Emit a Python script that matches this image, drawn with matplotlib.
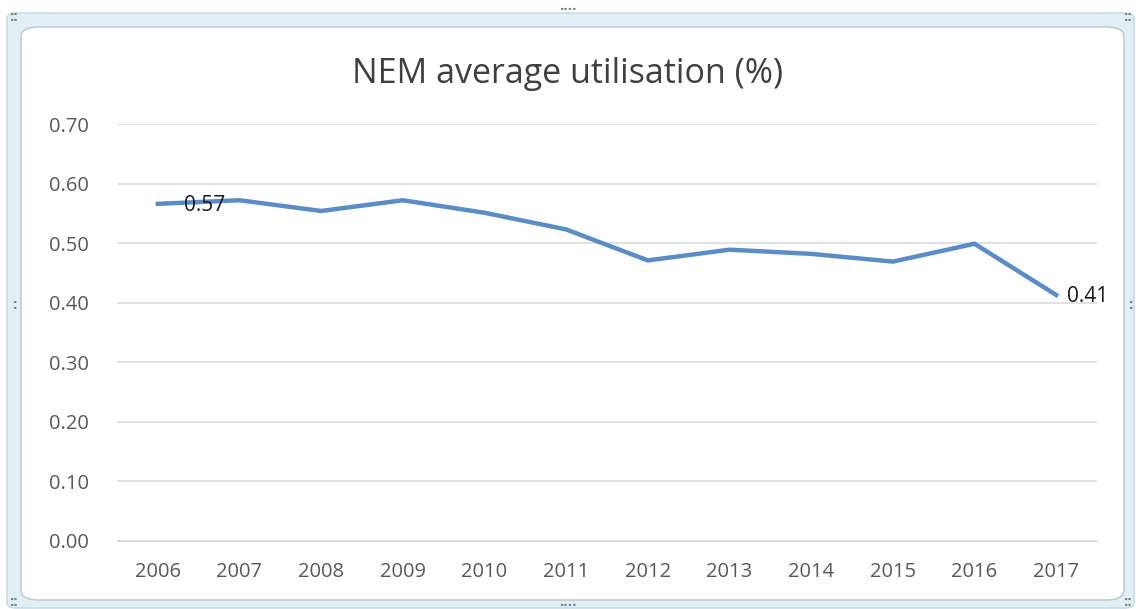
import numpy as np
import matplotlib.pyplot as plt
from matplotlib.patches import FancyBboxPatch

years = ["2006", "2007", "2008", "2009", "2010", "2011",
         "2012", "2013", "2014", "2015", "2016", "2017"]
utilisation = [0.566, 0.572, 0.554, 0.572, 0.551, 0.523,
               0.471, 0.489, 0.482, 0.469, 0.499, 0.413]
y_ticks = [0.0, 0.1, 0.2, 0.3, 0.4, 0.5, 0.6, 0.7]

plt.rcParams['font.family'] = ['Open Sans', 'DejaVu Sans']

W, H = 1136, 609
fig = plt.figure(figsize=(W / 100, H / 100), dpi=100)

def box(x0, y0, x1, y1, r, **kw):
    # rounded rect given in pixel coords from the top-left corner
    return FancyBboxPatch((x0 / W, 1 - y1 / H), (x1 - x0) / W, (y1 - y0) / H,
                          boxstyle=f"round,pad=0,rounding_size={r / W}",
                          transform=fig.transFigure, **kw)

# chart frame with rounded corners
outer = box(7, 13, 1134, 608, 10, facecolor="#e2eff4", edgecolor="#c9dce4",
            linewidth=1.2, zorder=-2)
inner = box(21, 27, 1124, 600, 18, facecolor="white", edgecolor="#bcd0da",
            linewidth=1.2, zorder=-1)
fig.patches.extend([outer, inner])

# sizing handles on the frame
handles = [(568, 6, "...."), (568, 602, "...."), (14, 305, ":"),
           (1130, 305, ":"), (14, 17, "::"), (1128, 17, "::"),
           (14, 602, "::"), (1128, 602, "::")]
for hx, hy, txt in handles:
    fig.text(hx / W, 1 - hy / H, txt, ha="center", va="center",
             color="#6f8089", fontsize=11, fontweight="bold")

ax = fig.add_axes([117 / W, 1 - 541 / H, 980 / W, 417 / H])
ax.patch.set_alpha(0)
x = np.arange(len(years))
ax.plot(x, utilisation, color="#5a8dc8", linewidth=3.2,
        solid_joinstyle="miter", zorder=3)

ax.set_xlim(-0.5, len(years) - 0.5)
ax.set_ylim(0, 0.7)
ax.set_yticks(y_ticks)
ax.set_yticklabels([f"{v:.2f}" for v in y_ticks])
ax.set_xticks(x)
ax.set_xticklabels(years)
ax.yaxis.grid(True, color="#d9d9d9", linewidth=1.1)
ax.set_axisbelow(True)
for s in ax.spines.values():
    s.set_visible(False)
ax.spines["bottom"].set_visible(True)
ax.spines["bottom"].set_color("#d9d9d9")
ax.tick_params(length=0, labelsize=14.5, labelcolor="#595959")
ax.tick_params(axis="y", pad=20)
ax.tick_params(axis="x", pad=15)

# data labels on first and last points
label_offsets = {0: 19, len(years) - 1: 8}
for i, dx in label_offsets.items():
    ax.annotate(f"{utilisation[i]:.2f}", (x[i], utilisation[i]),
                xytext=(dx, -1), textcoords="offset points",
                ha="left", va="center", fontsize=15, color="#1a1a1a",
                zorder=4)

fig.text(0.5, 1 - 74 / H, "NEM average utilisation (%)", ha="center",
         va="center", fontsize=24.5, color="#404040")

fig.savefig("out.png", dpi=100)
